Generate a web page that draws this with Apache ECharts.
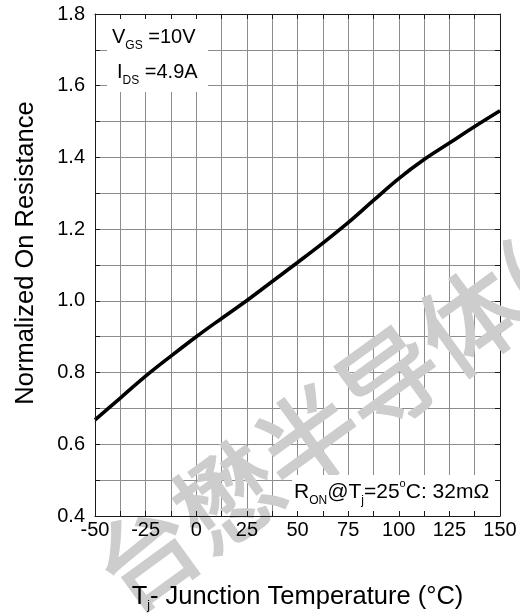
<!DOCTYPE html>
<html>
<head>
<meta charset="utf-8">
<script src="https://cdn.jsdelivr.net/npm/echarts@6/dist/echarts.min.js"></script>
<style>
html,body{margin:0;padding:0;background:#fff;}
#chart{width:520px;height:616px;}
</style>
</head>
<body>
<div id="chart"></div>
<script>
// ---- data ----
const temperatures = [-50, -37.5, -25, -12.5, 0, 12.5, 25, 37.5, 50, 62.5, 75, 87.5, 100, 112.5, 125, 137.5, 150];
const normalizedRon = [0.668, 0.729, 0.79, 0.846, 0.90, 0.951, 1.001, 1.054, 1.107, 1.161, 1.218, 1.28, 1.341, 1.394, 1.44, 1.486, 1.53];
const xTickLabels = ['-50', '-25', '0', '25', '50', '75', '100', '125', '150'];
const yTickLabels = ['0.4', '0.6', '0.8', '1.0', '1.2', '1.4', '1.6', '1.8'];
const xTitle = 'Tj- Junction Temperature (°C)';
const yTitle = 'Normalized On Resistance';
const watermarkText = '台懋半导体(';

const FONT = '"Liberation Sans", Arial, Helvetica, sans-serif';
const axisDark = { color: '#1a1a1a', width: 1 };
const gridLineStyle = { color: '#8c8c8c', width: 1 };

const xRange = { min: -50, max: 150, interval: 12.5 };
const yRange = { min: 0.4, max: 1.8, interval: 0.1 };

const chart = echarts.init(document.getElementById('chart'), null, { renderer: 'canvas' });

const option = {
  backgroundColor: '#ffffff',
  animation: false,
  grid: { left: 95, right: 20, top: 14, bottom: 100, containLabel: false, outerBoundsMode: 'none' },
  xAxis: [
    {
      type: 'value', position: 'bottom', min: xRange.min, max: xRange.max, interval: xRange.interval, z: 5,
      axisLine: { show: true, onZero: false, lineStyle: axisDark },
      axisTick: { show: true, inside: true, length: 5, lineStyle: axisDark },
      axisLabel: {
        show: true, margin: 4, fontSize: 20, color: '#000', fontFamily: FONT,
        formatter: v => { const s = String(v); return xTickLabels.includes(s) ? s : ''; }
      },
      splitLine: { show: false },
      name: '{n|T}{s|j}{n|' + xTitle.slice(2) + '}',
      nameLocation: 'middle', nameGap: 66,
      nameTextStyle: {
        rich: {
          n: { fontSize: 25.5, fontFamily: FONT, color: '#000', lineHeight: 30 },
          s: { fontSize: 12, fontFamily: FONT, color: '#000', lineHeight: 12, verticalAlign: 'bottom' }
        }
      }
    },
    {
      type: 'value', position: 'top', min: xRange.min, max: xRange.max, interval: xRange.interval, z: 0,
      axisLine: { show: true, onZero: false, lineStyle: axisDark },
      axisTick: { show: true, inside: true, length: 5, lineStyle: axisDark },
      axisLabel: { show: false },
      splitLine: { show: true, lineStyle: gridLineStyle }
    }
  ],
  yAxis: [
    {
      type: 'value', position: 'left', min: yRange.min, max: yRange.max, interval: yRange.interval, z: 5,
      axisLine: { show: true, onZero: false, lineStyle: axisDark },
      axisTick: { show: true, inside: true, length: 5, lineStyle: axisDark },
      axisLabel: {
        show: true, margin: 10, fontSize: 20, color: '#000', fontFamily: FONT,
        formatter: v => { const s = v.toFixed(1); return yTickLabels.includes(s) ? s : ''; }
      },
      splitLine: { show: false },
      name: yTitle, nameLocation: 'middle', nameGap: 56, nameRotate: 90,
      nameTextStyle: { fontSize: 25.5, fontFamily: FONT, color: '#000', padding: [0, 0, 0, 24] }
    },
    {
      type: 'value', position: 'right', min: yRange.min, max: yRange.max, interval: yRange.interval, z: 0,
      axisLine: { show: true, onZero: false, lineStyle: axisDark },
      axisTick: { show: true, inside: true, length: 5, lineStyle: axisDark },
      axisLabel: { show: false },
      splitLine: { show: true, lineStyle: gridLineStyle }
    }
  ],
  series: [
    {
      type: 'line', xAxisIndex: 0, yAxisIndex: 0, z: 4,
      data: temperatures.map((t, i) => [t, normalizedRon[i]]),
      showSymbol: false, smooth: 0.4,
      lineStyle: { color: '#000', width: 3.6 }
    }
  ],
  graphic: [
    {
      type: 'text', z: 1, x: 106, y: 585, rotation: 36 * Math.PI / 180, silent: true,
      style: {
        text: watermarkText, fontSize: 100, fontWeight: 'normal',
        fontFamily: '"Noto Sans CJK SC", sans-serif',
        fill: '#cdcdcd', stroke: '#cdcdcd', lineWidth: 2.5,
        align: 'left', verticalAlign: 'middle'
      }
    },
    { type: 'rect', z: 3, shape: { x: 107, y: 19, width: 101, height: 73 }, style: { fill: '#fff' } },
    { type: 'rect', z: 3, shape: { x: 292, y: 475, width: 203, height: 36 }, style: { fill: '#fff' } },
    {
      type: 'text', z: 6, x: 112, y: 22,
      style: {
        text: '{m|V}{s|GS}{m| =10V}', align: 'left', verticalAlign: 'top',
        rich: {
          m: { fontSize: 20, fontFamily: FONT, fill: '#000', lineHeight: 30 },
          s: { fontSize: 12, fontFamily: FONT, fill: '#000', lineHeight: 3, verticalAlign: 'bottom' }
        }
      }
    },
    {
      type: 'text', z: 6, x: 117, y: 57,
      style: {
        text: '{m|I}{s|DS}{m| =4.9A}', align: 'left', verticalAlign: 'top',
        rich: {
          m: { fontSize: 20, fontFamily: FONT, fill: '#000', lineHeight: 30 },
          s: { fontSize: 12, fontFamily: FONT, fill: '#000', lineHeight: 3, verticalAlign: 'bottom' }
        }
      }
    },
    {
      type: 'text', z: 6, x: 294, y: 478.5,
      style: {
        text: '{m|R}{s|ON}{m|@T}{j|j}{m|=25}{o|o}{m|C: 32mΩ}', align: 'left', verticalAlign: 'top',
        rich: {
          m: { fontSize: 21, fontFamily: FONT, fill: '#000', lineHeight: 28 },
          s: { fontSize: 12, fontFamily: FONT, fill: '#000', lineHeight: 6, verticalAlign: 'bottom' },
          j: { fontSize: 12, fontFamily: FONT, fill: '#000', lineHeight: 4, verticalAlign: 'bottom' },
          o: { fontSize: 11, fontFamily: FONT, fill: '#000', lineHeight: 17, verticalAlign: 'top' }
        }
      }
    }
  ]
};

chart.setOption(option);
</script>
</body>
</html>
